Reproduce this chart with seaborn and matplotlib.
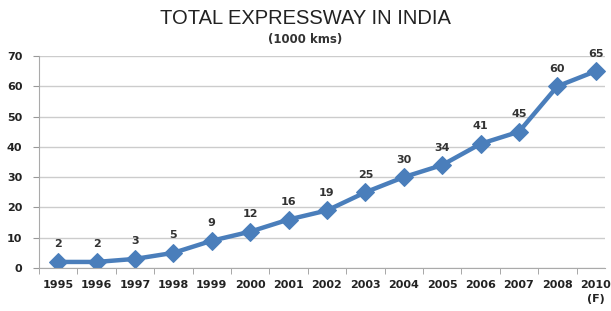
import pandas as pd
import seaborn as sns
import matplotlib.pyplot as plt
from matplotlib.ticker import FixedLocator

# data
years = ['1995', '1996', '1997', '1998', '1999', '2000', '2001', '2002',
         '2003', '2004', '2005', '2006', '2007', '2008', '2010\n(F)']
kms = [2, 2, 3, 5, 9, 12, 16, 19, 25, 30, 34, 41, 45, 60, 65]

df = pd.DataFrame({'year': years, 'kms': kms})
df['pos'] = range(len(df))

sns.set_style('white')
fig = plt.figure(figsize=(6.11, 3.11), dpi=100)
ax = fig.add_axes([39 / 611, 1 - 268 / 311, 566 / 611, 212 / 311])

blue = '#4a7ebb'
sns.lineplot(data=df, x='pos', y='kms', ax=ax, color=blue, linewidth=3.2,
             marker='D', markersize=9, markeredgecolor=blue)

# value labels above points
for p, v in zip(df['pos'], df['kms']):
    ax.annotate(str(v), (p, v), xytext=(0, 9), textcoords='offset points',
                ha='center', va='bottom', fontsize=8, fontweight='bold', color='#333333')

ax.set_ylim(0, 70)
ax.set_xlim(-0.5, 14.24)
ax.set_yticks(range(0, 71, 10))
ax.set_xticks(df['pos'])
ax.set_xticklabels(years, fontsize=8, fontweight='bold', color='#222222', linespacing=1.5, va='top')
ax.set_yticklabels([str(t) for t in range(0, 71, 10)], fontsize=8, fontweight='bold', color='#222222')
ax.xaxis.set_minor_locator(FixedLocator([i - 0.5 for i in range(16)]))
ax.tick_params(axis='x', which='major', length=0, pad=9)
ax.tick_params(axis='x', which='minor', length=4, color='#999999', bottom=True)
ax.tick_params(axis='y', length=4, color='#999999', pad=8, left=True)
ax.grid(axis='y', color='#cccccc', linewidth=1)
ax.set_axisbelow(True)
for s in ['top', 'right']:
    ax.spines[s].set_visible(False)
for s in ['left', 'bottom']:
    ax.spines[s].set_color('#aaaaaa')
ax.set_xlabel('')
ax.set_ylabel('')

fig.text(0.5, 1 - 18 / 311, 'TOTAL EXPRESSWAY IN INDIA', ha='center', va='center',
         fontsize=14.5, color='#222222', family='Liberation Sans')
fig.text(0.5, 1 - 40 / 311, '(1000 kms)', ha='center', va='center',
         fontsize=8.5, fontweight='bold', color='#333333')

fig.savefig('out.png', dpi=100)
